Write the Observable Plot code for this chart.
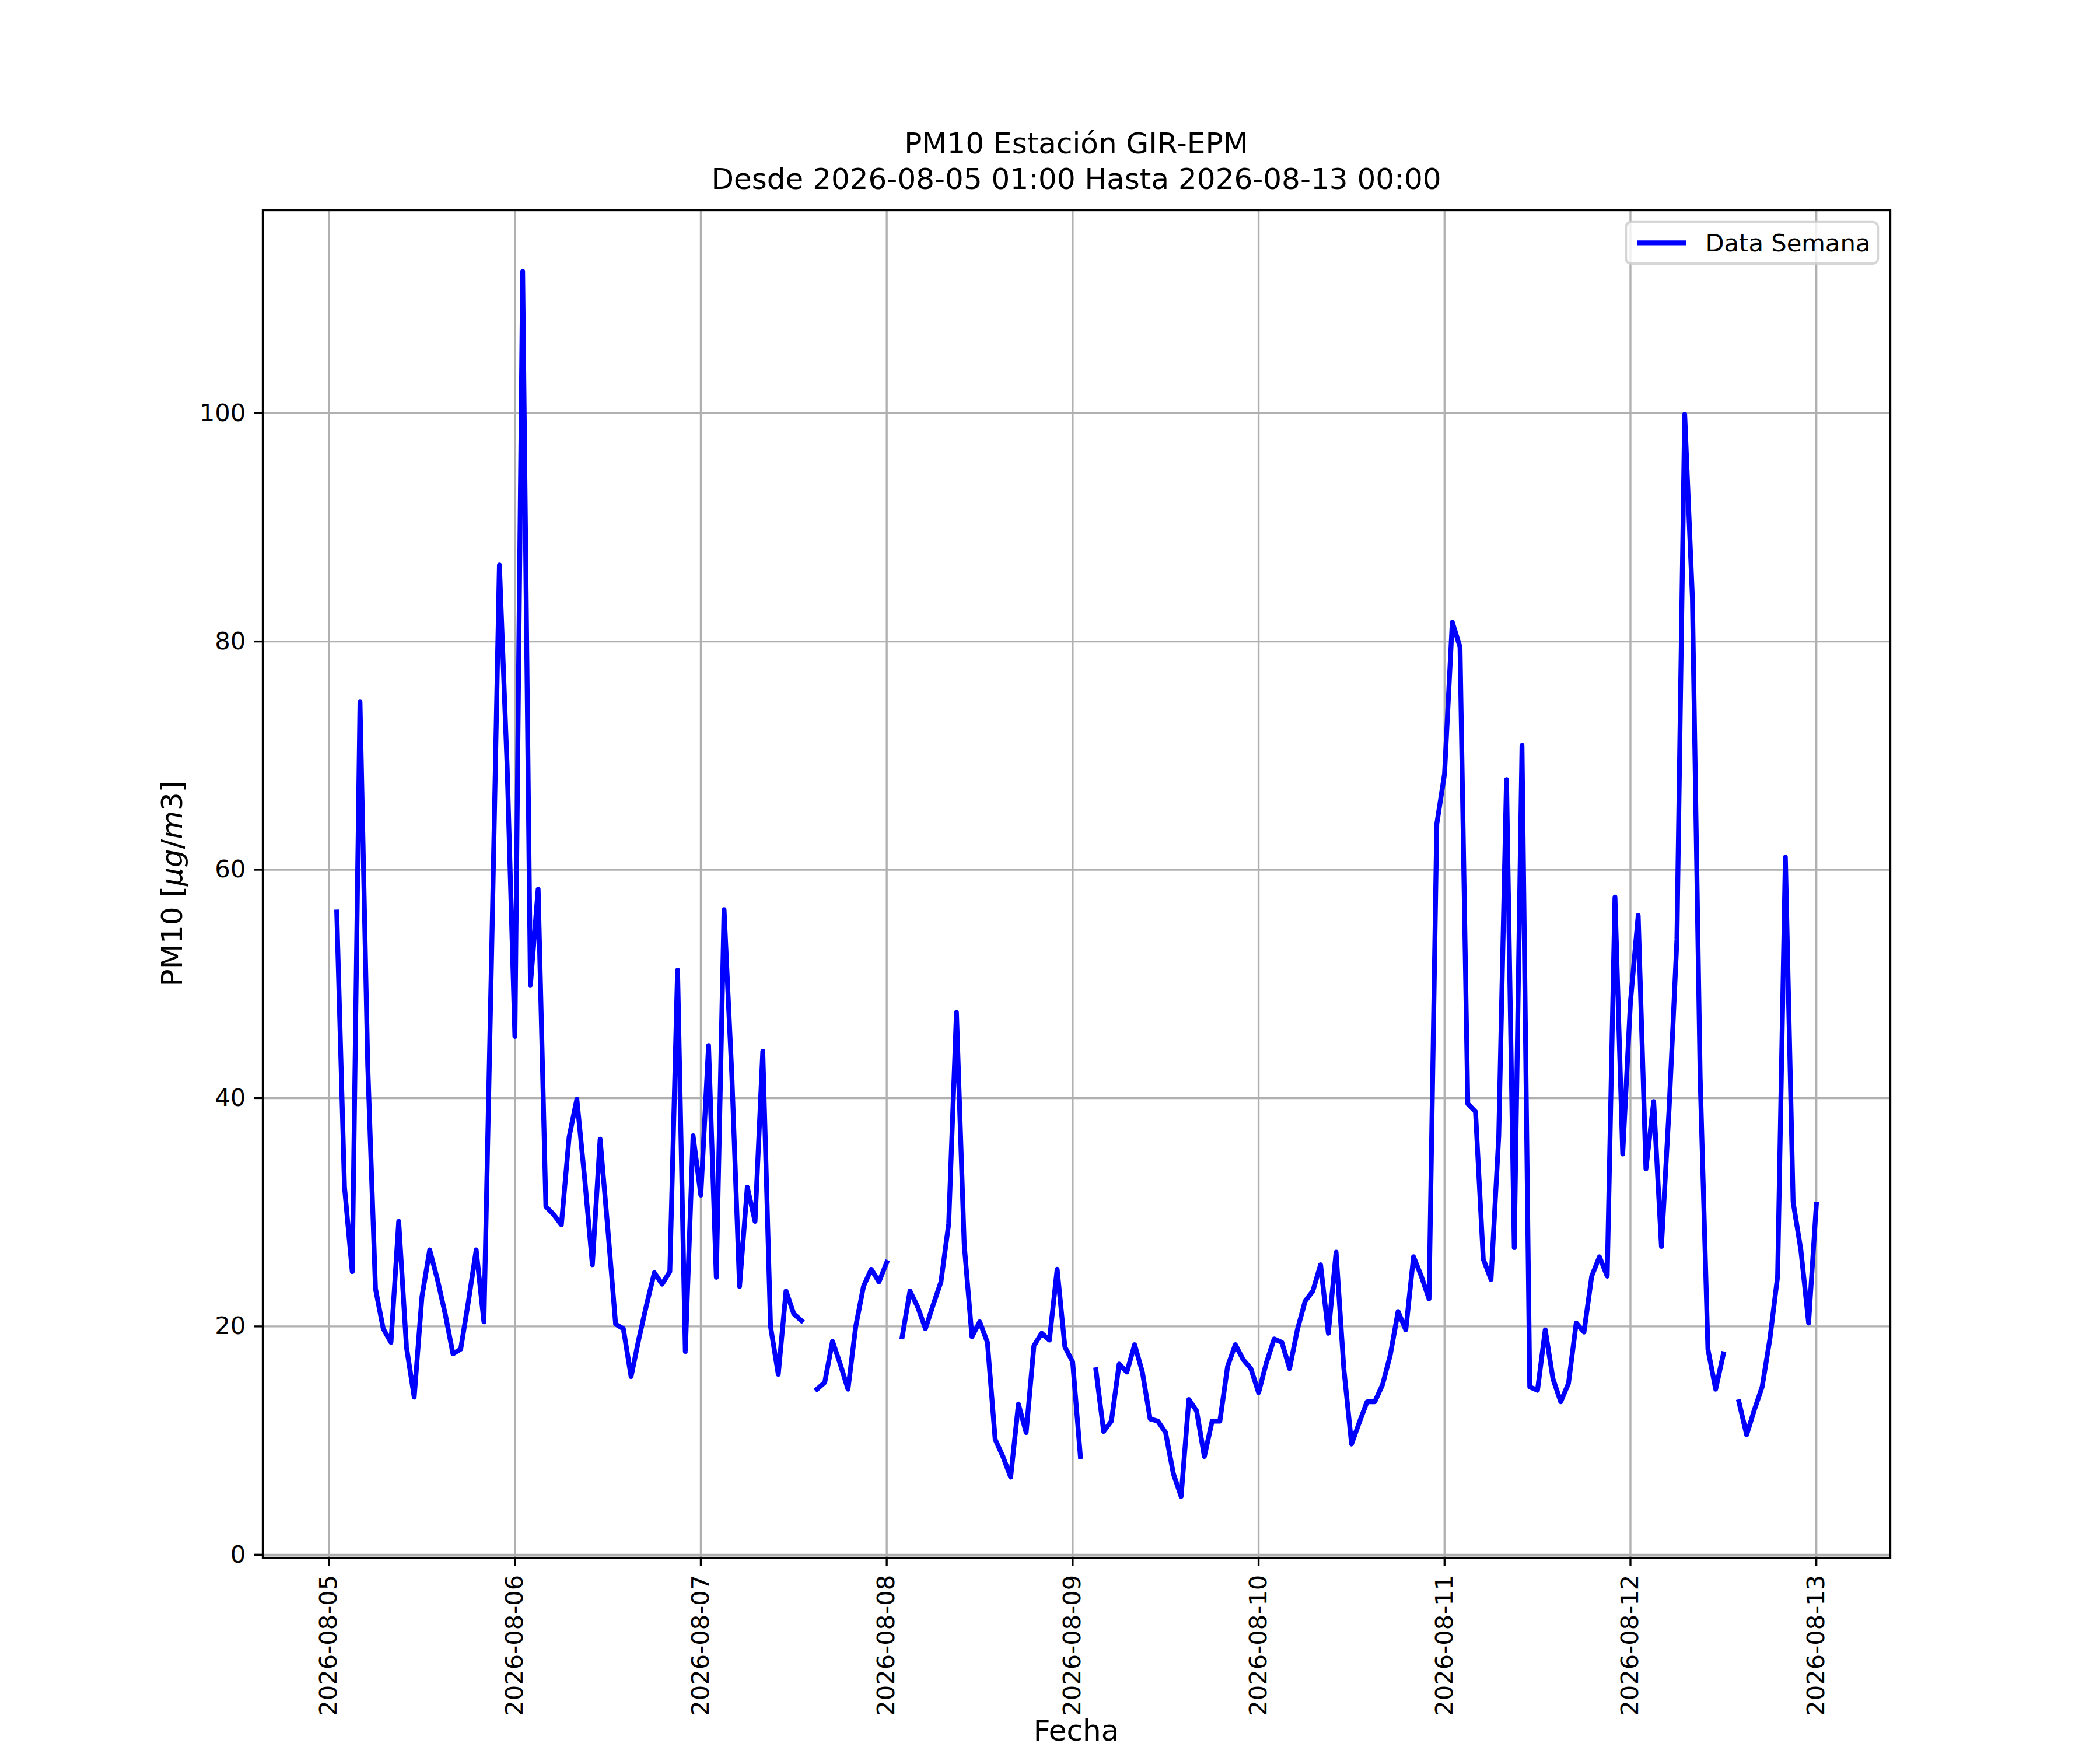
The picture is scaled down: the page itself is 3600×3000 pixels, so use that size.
<!DOCTYPE html>
<html>
<head>
<meta charset="utf-8">
<script src="https://cdn.jsdelivr.net/npm/d3@7"></script>
<script src="https://cdn.jsdelivr.net/npm/@observablehq/plot@0.6"></script>
<style>
  html, body { margin: 0; padding: 0; background: #ffffff; }
  #chart svg { display: block; }
</style>
</head>
<body>
<div id="chart"></div>
<script>
// ---------------- data ----------------
const titleLines = ["PM10 Estación GIR-EPM", "Desde 2026-08-05 01:00 Hasta 2026-08-13 00:00"];
const xLabel = "Fecha";
const seriesName = "Data Semana";
const startHour = "2026-08-05T01:00:00Z";   // first hourly reading

// hourly PM10 values, one array per day (01:00 .. 24:00); null = missing
const day1 = [56.3, 32.2, 24.8, 74.7, 42.9, 23.3, 19.8, 18.6, 29.2, 18.2, 13.8, 22.6,
              26.7, 24.1, 21.1, 17.6, 18.0, 22.2, 26.7, 20.4, 52.8, 86.7, 69.0, 45.4];
const day2 = [112.4, 49.9, 58.3, 30.5, 29.8, 28.9, 36.6, 39.9, 33.0, 25.4, 36.4, 28.5,
              20.2, 19.8, 15.6, 18.9, 21.9, 24.7, 23.7, 24.8, 51.2, 17.8, 36.7, 31.5];
const day3 = [44.6, 24.3, 56.5, 42.1, 23.5, 32.2, 29.2, 44.1, 20.0, 15.8, 23.1, 21.1,
              20.5, null, 14.5, 15.1, 18.7, 16.7, 14.5, 20.0, 23.5, 25.0, 23.9, 25.6];
const day4 = [null, 19.1, 23.1, 21.7, 19.8, 21.9, 23.9, 29.0, 47.5, 27.2, 19.1, 20.4,
              18.6, 10.1, 8.6, 6.8, 13.2, 10.7, 18.3, 19.4, 18.8, 25.0, 18.2, 16.9];
const day5 = [8.6, null, 16.2, 10.8, 11.7, 16.7, 16.0, 18.4, 16.0, 11.9, 11.7, 10.7,
              7.1, 5.1, 13.6, 12.6, 8.6, 11.7, 11.7, 16.5, 18.4, 17.1, 16.3, 14.2];
const day6 = [16.8, 18.9, 18.6, 16.3, 19.7, 22.2, 23.1, 25.4, 19.4, 26.5, 16.3, 9.7,
              11.6, 13.4, 13.4, 14.9, 17.5, 21.3, 19.7, 26.1, 24.4, 22.4, 64.0, 68.4];
const day7 = [81.7, 79.5, 39.5, 38.8, 25.9, 24.1, 36.7, 67.9, 26.9, 70.9, 14.7, 14.4,
              19.7, 15.4, 13.4, 15.0, 20.3, 19.5, 24.4, 26.1, 24.4, 57.6, 35.1, 48.4];
const day8 = [56.0, 33.8, 39.7, 27.0, 39.2, 53.9, 99.9, 83.8, 41.8, 18.0, 14.5, 17.6,
              null, 13.4, 10.5, 12.7, 14.7, 18.9, 24.4, 61.1, 30.9, 26.7, 20.3, 30.7];

const xTickLabels = ["2026-08-05", "2026-08-06", "2026-08-07", "2026-08-08", "2026-08-09",
                     "2026-08-10", "2026-08-11", "2026-08-12", "2026-08-13"];
const yTicks = [0, 20, 40, 60, 80, 100];

// ---------------- build ----------------
const values = [...day1, ...day2, ...day3, ...day4, ...day5, ...day6, ...day7, ...day8];
const t0 = new Date(startHour);
const table = values.map((v, i) => ({date: new Date(+t0 + i * 3600e3), pm10: v}));
const xTicks = xTickLabels.map(s => new Date(s + "T00:00:00Z"));

const W = 3600, H = 3000;
const mL = 450, mR = 360, mT = 360, mB = 330;
const pt = 300 / 72;             // px per point
const tickFont = 10 * pt;
const labelFont = 12 * pt;

const dExt = d3.extent(table, d => +d.date);
const vExt = d3.extent(values.filter(v => v != null));
const dPad = (dExt[1] - dExt[0]) * 0.05;
const vPad = (vExt[1] - vExt[0]) * 0.05;

const fmt = d3.utcFormat("%Y-%m-%d");

const chart = Plot.plot({
  width: W,
  height: H,
  marginLeft: mL, marginRight: mR, marginTop: mT, marginBottom: mB,
  style: {fontFamily: "'DejaVu Sans', sans-serif", background: "#ffffff", color: "#000000"},
  x: {type: "utc", domain: [new Date(dExt[0] - dPad), new Date(dExt[1] + dPad)]},
  y: {domain: [vExt[0] - vPad, vExt[1] + vPad]},
  marks: [
    Plot.gridX(xTicks, {stroke: "#b0b0b0", strokeOpacity: 1, strokeWidth: 0.8 * pt}),
    Plot.gridY(yTicks, {stroke: "#b0b0b0", strokeOpacity: 1, strokeWidth: 0.8 * pt}),
    Plot.line(table, {x: "date", y: "pm10", stroke: "#0000ff", strokeWidth: 2 * pt,
                      strokeLinejoin: "round", strokeLinecap: "square", curve: "linear"}),
    Plot.frame({stroke: "#000000", strokeWidth: 0.8 * pt}),
    Plot.axisX(xTicks, {tickFormat: fmt, tickRotate: -90, tickSize: 3.5 * pt, tickPadding: 3.5 * pt,
                        fontSize: tickFont, strokeWidth: 0.8 * pt, label: null}),
    Plot.axisY(yTicks, {tickFormat: d => String(d), tickSize: 3.5 * pt, tickPadding: 3.5 * pt,
                        fontSize: tickFont, strokeWidth: 0.8 * pt, label: null})
  ]
});

document.getElementById("chart").appendChild(chart);

// ---------------- annotations: title, axis labels, legend ----------------
const svg = d3.select(chart);
const cx = mL + (W - mL - mR) / 2;
const cy = mT + (H - mT - mB) / 2;

const title = svg.append("text")
  .attr("x", cx).attr("text-anchor", "middle")
  .attr("font-family", "'DejaVu Sans', sans-serif")
  .attr("font-size", labelFont).attr("fill", "#000");
title.append("tspan").attr("x", cx).attr("y", mT - 6 * pt - 1.2 * labelFont - 0.25 * labelFont).text(titleLines[0]);
title.append("tspan").attr("x", cx).attr("y", mT - 6 * pt - 0.25 * labelFont + 1).text(titleLines[1]);

// y label with mathtext-like italics
const ylx = 312, yly = cy;
const yl = svg.append("text")
  .attr("transform", `translate(${ylx},${yly}) rotate(-90)`)
  .attr("text-anchor", "middle")
  .attr("font-family", "'DejaVu Sans', sans-serif")
  .attr("font-size", labelFont).attr("fill", "#000");
yl.append("tspan").text("PM10 [");
yl.append("tspan").attr("font-style", "italic").text("μg");
yl.append("tspan").text("/");
yl.append("tspan").attr("font-style", "italic").text("m");
yl.append("tspan").text("3]");

// x label
svg.append("text")
  .attr("x", cx).attr("y", H - 16)
  .attr("text-anchor", "middle")
  .attr("font-family", "'DejaVu Sans', sans-serif")
  .attr("font-size", labelFont).attr("fill", "#000")
  .text(xLabel);

// legend (upper right)
const lgPad = 0.5 * tickFont;
const lgRight = W - mR - lgPad;
const lgTop = mT + lgPad;
const lgW = 432, lgH = 71;
const lg = svg.append("g");
lg.append("rect")
  .attr("x", lgRight - lgW).attr("y", lgTop)
  .attr("width", lgW).attr("height", lgH)
  .attr("rx", 0.2 * tickFont).attr("ry", 0.2 * tickFont)
  .attr("fill", "#ffffff").attr("fill-opacity", 0.8)
  .attr("stroke", "#cccccc").attr("stroke-opacity", 0.8).attr("stroke-width", 1 * pt);
const lgMidY = lgTop + lgH / 2;
const lx0 = lgRight - lgW + 0.4 * tickFont + 3;
lg.append("line")
  .attr("x1", lx0).attr("x2", lx0 + 2 * tickFont)
  .attr("y1", lgMidY).attr("y2", lgMidY)
  .attr("stroke", "#0000ff").attr("stroke-width", 2 * pt).attr("stroke-linecap", "butt");
lg.append("text")
  .attr("x", lx0 + 2.8 * tickFont).attr("y", lgMidY)
  .attr("dy", "0.36em")
  .attr("text-anchor", "start")
  .attr("font-family", "'DejaVu Sans', sans-serif")
  .attr("font-size", tickFont).attr("fill", "#000")
  .text(seriesName);
</script>
</body>
</html>
